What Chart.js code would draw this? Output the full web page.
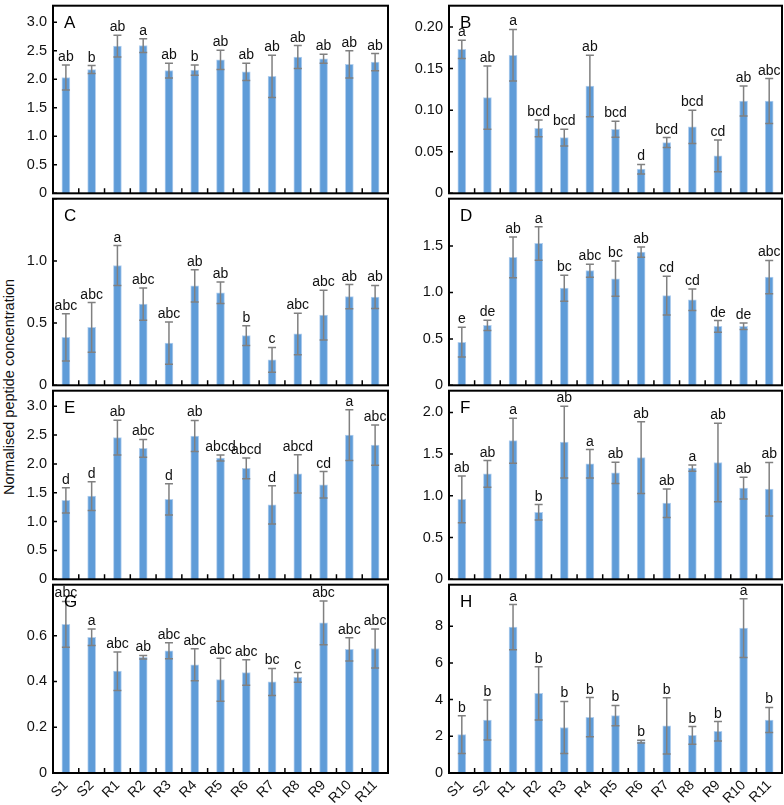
<!DOCTYPE html>
<html>
<head>
<meta charset="utf-8">
<script src="https://cdn.jsdelivr.net/npm/chart.js@4.4.0/dist/chart.umd.min.js"></script>
<style>
  html, body { margin: 0; padding: 0; background: #fff; overflow: hidden; }
  #wrap { position: relative; width: 784px; height: 805px; }
  #wrap canvas { position: absolute; }
  #ytitle {
    position: absolute; left: 9px; top: 387px;
    transform: translate(-50%, -50%) rotate(-90deg);
    font: 14.5px "Liberation Sans", Arial, sans-serif;
    white-space: nowrap; color: #111;
  }
</style>
</head>
<body>
<div id="wrap">
  <div id="ytitle">Normalised peptide concentration</div>
</div>
<script>
// ── DATA ─────────────────────────────────────────────
const categories = ['S1', 'S2', 'R1', 'R2', 'R3', 'R4', 'R5', 'R6', 'R7', 'R8', 'R9', 'R10', 'R11'];

const meanA = [2.03, 2.17, 2.58, 2.59, 2.15, 2.16, 2.34, 2.13, 2.05, 2.39, 2.36, 2.26, 2.30];
const errA  = [0.22, 0.07, 0.19, 0.12, 0.13, 0.09, 0.17, 0.15, 0.37, 0.20, 0.08, 0.24, 0.15];
const sigA  = ['ab', 'b', 'ab', 'a', 'ab', 'b', 'ab', 'ab', 'ab', 'ab', 'ab', 'ab', 'ab'];

const meanB = [0.173, 0.115, 0.166, 0.078, 0.067, 0.129, 0.077, 0.029, 0.061, 0.080, 0.045, 0.111, 0.111];
const errB  = [0.011, 0.038, 0.031, 0.010, 0.010, 0.037, 0.0097, 0.0057, 0.006, 0.020, 0.019, 0.018, 0.027];
const sigB  = ['a', 'ab', 'a', 'bcd', 'bcd', 'ab', 'bcd', 'd', 'bcd', 'bcd', 'cd', 'ab', 'abc'];

const meanC = [0.386, 0.465, 0.963, 0.653, 0.339, 0.799, 0.744, 0.399, 0.204, 0.413, 0.564, 0.713, 0.710];
const errC  = [0.19, 0.20, 0.16, 0.13, 0.17, 0.13, 0.086, 0.08, 0.10, 0.167, 0.20, 0.097, 0.093];
const sigC  = ['abc', 'abc', 'a', 'abc', 'abc', 'ab', 'ab', 'b', 'c', 'abc', 'abc', 'ab', 'ab'];

const meanD = [0.464, 0.645, 1.378, 1.528, 1.046, 1.235, 1.148, 1.434, 0.966, 0.921, 0.635, 0.635, 1.165];
const errD  = [0.16, 0.056, 0.22, 0.18, 0.14, 0.07, 0.19, 0.056, 0.21, 0.115, 0.063, 0.035, 0.18];
const sigD  = ['e', 'de', 'ab', 'a', 'bc', 'abc', 'bc', 'ab', 'cd', 'cd', 'de', 'de', 'abc'];

const meanE = [1.368, 1.441, 2.456, 2.271, 1.385, 2.485, 2.103, 1.924, 1.290, 1.828, 1.638, 2.501, 2.327];
const errE  = [0.22, 0.25, 0.30, 0.155, 0.27, 0.27, 0.05, 0.18, 0.33, 0.33, 0.23, 0.44, 0.35];
const sigE  = ['d', 'd', 'ab', 'abc', 'd', 'ab', 'abcd', 'abcd', 'd', 'abcd', 'cd', 'a', 'abc'];

const meanF = [0.959, 1.263, 1.661, 0.803, 1.645, 1.384, 1.275, 1.458, 0.912, 1.333, 1.400, 1.092, 1.080];
const errF  = [0.28, 0.16, 0.27, 0.092, 0.43, 0.17, 0.127, 0.43, 0.17, 0.037, 0.47, 0.13, 0.32];
const sigF  = ['ab', 'ab', 'a', 'b', 'ab', 'a', 'ab', 'ab', 'ab', 'a', 'ab', 'ab', 'ab'];

const meanG = [0.650, 0.593, 0.445, 0.506, 0.534, 0.473, 0.408, 0.439, 0.398, 0.418, 0.656, 0.540, 0.544];
const errG  = [0.10, 0.036, 0.084, 0.008, 0.035, 0.07, 0.094, 0.056, 0.059, 0.021, 0.096, 0.051, 0.085];
const sigG  = ['abc', 'a', 'abc', 'ab', 'abc', 'abc', 'abc', 'abc', 'bc', 'c', 'abc', 'abc', 'abc'];

const meanH = [2.09, 2.89, 7.95, 4.34, 2.48, 3.04, 3.13, 1.71, 2.57, 2.05, 2.27, 7.89, 2.89];
const errH  = [1.03, 1.09, 1.23, 1.45, 1.42, 1.07, 0.55, 0.08, 1.53, 0.48, 0.53, 1.6, 0.68];
const sigH  = ['b', 'b', 'a', 'b', 'b', 'b', 'b', 'b', 'b', 'b', 'b', 'a', 'b'];

// panel list: axis max, tick step, decimals, grid position
const panels = [
  { name: 'A', mean: meanA, err: errA, sig: sigA, max: 3.29,  step: 0.5,  dec: 1, col: 0, row: 0 },
  { name: 'B', mean: meanB, err: errB, sig: sigB, max: 0.2256, step: 0.05, dec: 2, col: 1, row: 0 },
  { name: 'C', mean: meanC, err: errC, sig: sigC, max: 1.5,   step: 0.5,  dec: 1, col: 0, row: 1 },
  { name: 'D', mean: meanD, err: errD, sig: sigD, max: 2.01,  step: 0.5,  dec: 1, col: 1, row: 1 },
  { name: 'E', mean: meanE, err: errE, sig: sigE, max: 3.27,  step: 0.5,  dec: 1, col: 0, row: 2 },
  { name: 'F', mean: meanF, err: errF, sig: sigF, max: 2.26,  step: 0.5,  dec: 1, col: 1, row: 2 },
  { name: 'G', mean: meanG, err: errG, sig: sigG, max: 0.823, step: 0.2,  dec: 1, col: 0, row: 3 },
  { name: 'H', mean: meanH, err: errH, sig: sigH, max: 10.26, step: 2,    dec: 0, col: 1, row: 3 },
];

// ── LAYOUT ───────────────────────────────────────────
const colLeft   = [53, 449];
const colRight  = [388, 782];
const rowTop    = [1, 194, 386, 580];
const rowBottom = [194, 386, 580, 773];
const AXIS_W = 53, PAD_TOP = 10, PAD_R = 4;
const FONT = '"Liberation Sans", Arial, Helvetica, sans-serif';

// draws error bars, letters, frame, inward ticks, panel letter
const decorPlugin = {
  id: 'decor',
  afterDraw(chart) {
    const p = chart.options.plugins.decor;
    const { ctx, chartArea: a } = chart;
    const xs = chart.scales.x, ys = chart.scales.y;
    const meta = chart.getDatasetMeta(0);
    ctx.save();

    // error bars
    ctx.strokeStyle = '#808080';
    ctx.lineWidth = 1.5;
    meta.data.forEach((bar, i) => {
      const cx = bar.x;
      const yt = ys.getPixelForValue(p.mean[i] + p.err[i]);
      const yb = ys.getPixelForValue(p.mean[i] - p.err[i]);
      ctx.beginPath();
      ctx.moveTo(cx, yt); ctx.lineTo(cx, yb);
      ctx.moveTo(cx - 4, yt); ctx.lineTo(cx + 4, yt);
      ctx.moveTo(cx - 4, yb); ctx.lineTo(cx + 4, yb);
      ctx.stroke();
    });

    // significance letters
    ctx.fillStyle = '#111';
    ctx.font = '14px ' + FONT;
    ctx.textAlign = 'center';
    ctx.textBaseline = 'alphabetic';
    meta.data.forEach((bar, i) => {
      const yt = ys.getPixelForValue(p.mean[i] + p.err[i]);
      ctx.fillText(p.sig[i], bar.x, yt - 4);
    });

    // frame
    ctx.strokeStyle = '#000';
    ctx.lineWidth = 2;
    ctx.strokeRect(a.left, a.top, a.right - a.left, a.bottom - a.top);

    // inward ticks
    ctx.lineWidth = 1.5;
    ctx.beginPath();
    ys.ticks.forEach(t => {
      const py = ys.getPixelForValue(t.value);
      ctx.moveTo(a.left, py); ctx.lineTo(a.left + 4, py);
    });
    for (let i = 1; i < categories.length; i++) {
      const px = (xs.getPixelForValue(i - 1) + xs.getPixelForValue(i)) / 2;
      ctx.moveTo(px, a.bottom); ctx.lineTo(px, a.bottom - 5);
    }
    ctx.stroke();

    // panel letter
    ctx.fillStyle = '#000';
    ctx.font = '17px ' + FONT;
    ctx.textAlign = 'left';
    ctx.fillText(p.name, a.left + 11, a.top + 22);
    ctx.restore();
  }
};

const wrap = document.getElementById('wrap');

panels.forEach(p => {
  const bottomRow = p.row === 3;
  const extra = bottomRow ? 42 : 14;
  const left = colLeft[p.col] - AXIS_W;
  const width = colRight[p.col] - left + PAD_R;
  const top = rowTop[p.row] - PAD_TOP;
  const height = PAD_TOP + (rowBottom[p.row] - rowTop[p.row]) + extra;

  const canvas = document.createElement('canvas');
  canvas.width = width;
  canvas.height = height;
  canvas.style.left = left + 'px';
  canvas.style.top = top + 'px';
  wrap.appendChild(canvas);

  new Chart(canvas.getContext('2d'), {
    type: 'bar',
    data: {
      labels: categories,
      datasets: [{
        data: p.mean,
        backgroundColor: '#5f9cd8',
        borderColor: '#b3d0ef',
        borderWidth: 1,
        barThickness: 8,
      }]
    },
    options: {
      responsive: false,
      animation: false,
      devicePixelRatio: 1,
      layout: { padding: { top: PAD_TOP, right: PAD_R, left: 0, bottom: bottomRow ? 0 : extra } },
      plugins: {
        legend: { display: false },
        tooltip: { enabled: false },
        decor: p,
      },
      scales: {
        x: {
          grid: { display: false, drawTicks: false },
          border: { display: false },
          ticks: {
            display: bottomRow,
            autoSkip: false,
            minRotation: 45,
            maxRotation: 45,
            padding: 4,
            color: '#111',
            font: { family: FONT, size: 14 },
          },
          afterFit(scale) { scale.height = bottomRow ? extra : 0; }
        },
        y: {
          min: 0,
          max: p.max,
          grid: { display: false, drawTicks: false },
          border: { display: false },
          ticks: {
            stepSize: p.step,
            padding: 6,
            color: '#111',
            font: { family: FONT, size: 14.5 },
            callback(v) {
              if (p.max - v < p.step * 0.3) return '';
              return v === 0 ? '0' : v.toFixed(p.dec);
            }
          },
          afterBuildTicks(scale) {
            scale.ticks = scale.ticks.filter(t =>
              Math.abs(t.value / p.step - Math.round(t.value / p.step)) < 1e-6);
          },
          afterFit(scale) { scale.width = AXIS_W; }
        }
      }
    },
    plugins: [decorPlugin]
  });
});
</script>
</body>
</html>
